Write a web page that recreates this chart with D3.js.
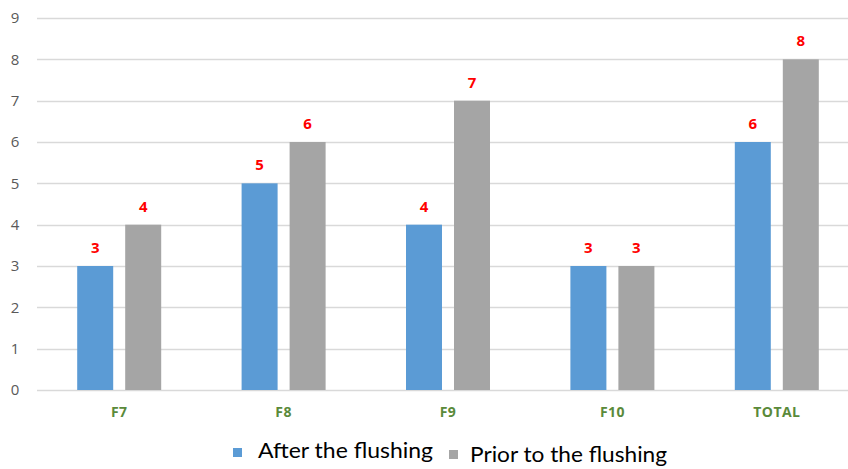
<!DOCTYPE html>
<html>
<head>
<meta charset="utf-8">
<script src="https://cdn.jsdelivr.net/npm/d3@7"></script>
<style>
  html, body { margin: 0; padding: 0; background: #fff; }
  svg { display: block; }
</style>
</head>
<body>
<svg id="chart" width="848" height="469"></svg>
<script>
// Sites and their counts
const categories = ["F7", "F8", "F9", "F10", "TOTAL"];
const seriesNames = ["After the flushing", "Prior to the flushing"];
const afterValues = [3, 5, 4, 3, 6];
const priorValues = [4, 6, 7, 3, 8];
const yTicks = [0, 1, 2, 3, 4, 5, 6, 7, 8, 9];

const colors = ["#5b9bd5", "#a5a5a5"];
const svg = d3.select("#chart");
const W = 848, H = 469;
const margin = { left: 37, right: -11, top: 18, bottom: 79 };

const x = d3.scaleBand()
  .domain(categories)
  .range([margin.left, W - margin.right])
  .paddingInner(0).paddingOuter(0);

const y = d3.scaleLinear()
  .domain([0, 9])
  .range([H - margin.bottom, margin.top]);

const barW = 36, gap = 12;

// Gridlines
svg.append("g")
  .selectAll("line")
  .data(yTicks)
  .join("line")
  .attr("x1", margin.left)
  .attr("x2", W)
  .attr("y1", d => Math.round(y(d)) + 0.5)
  .attr("y2", d => Math.round(y(d)) + 0.5)
  .attr("stroke", "#d9d9d9")
  .attr("stroke-width", 1.3);

// Y axis labels
const yAxis = d3.axisLeft(y).tickValues(yTicks).tickSize(0).tickPadding(0);
const gy = svg.append("g")
  .attr("transform", `translate(${margin.left - 22},0)`)
  .call(yAxis);
gy.select(".domain").remove();
gy.selectAll("text")
  .attr("text-anchor", "middle")
  .attr("fill", "#595959")
  .style("font-family", "'Open Sans', 'DejaVu Sans', sans-serif")
  .style("font-size", "15px");

// Bars
const series = [afterValues, priorValues];
const groups = svg.append("g")
  .selectAll("g")
  .data(categories)
  .join("g")
  .attr("transform", d => `translate(${x(d)},0)`);

const center = x.bandwidth() / 2;
const barX = s => s === 0 ? center - gap / 2 - barW : center + gap / 2;

groups.selectAll("rect")
  .data((d, i) => series.map((vals, s) => ({ s, v: vals[i] })))
  .join("rect")
  .attr("x", d => barX(d.s))
  .attr("width", barW)
  .attr("y", d => y(d.v))
  .attr("height", d => y(0) - y(d.v))
  .attr("fill", d => colors[d.s]);

// Value labels
groups.selectAll("text.val")
  .data((d, i) => series.map((vals, s) => ({ s, v: vals[i] })))
  .join("text")
  .attr("class", "val")
  .attr("x", d => barX(d.s) + barW / 2)
  .attr("y", d => y(d.v) - 13)
  .attr("text-anchor", "middle")
  .attr("fill", "#ff0000")
  .style("font-family", "'Open Sans', 'DejaVu Sans', sans-serif")
  .style("font-weight", "bold")
  .style("font-size", "15px")
  .text(d => d.v);

// Category labels
const xAxis = d3.axisBottom(x).tickSize(0).tickPadding(0);
const gx = svg.append("g")
  .attr("transform", `translate(0,${y(0) + 27})`)
  .call(xAxis);
gx.select(".domain").remove();
gx.selectAll("text")
  .attr("dy", 0)
  .attr("fill", "#5a8a3a")
  .style("font-family", "'Open Sans', 'DejaVu Sans', sans-serif")
  .style("font-weight", "bold")
  .style("font-size", "14px")
  .style("letter-spacing", "0.4px");

// Legend
const legend = svg.append("g");
const legendItems = [
  { name: seriesNames[0], sx: 233, sy: 448, tx: 258, ty: 458, w: 175 },
  { name: seriesNames[1], sx: 449, sy: 450, tx: 470, ty: 462, w: 197 }
];
legendItems.forEach((it, i) => {
  legend.append("rect")
    .attr("x", it.sx).attr("y", it.sy)
    .attr("width", 9).attr("height", 9)
    .attr("fill", colors[i]);
  legend.append("text")
    .attr("x", it.tx).attr("y", it.ty)
    .attr("fill", "#000")
    .attr("textLength", it.w)
    .attr("lengthAdjust", "spacingAndGlyphs")
    .style("font-family", "Lato, 'Open Sans', sans-serif")
    .style("font-size", "22px")
    .text(it.name);
});
</script>
</body>
</html>
